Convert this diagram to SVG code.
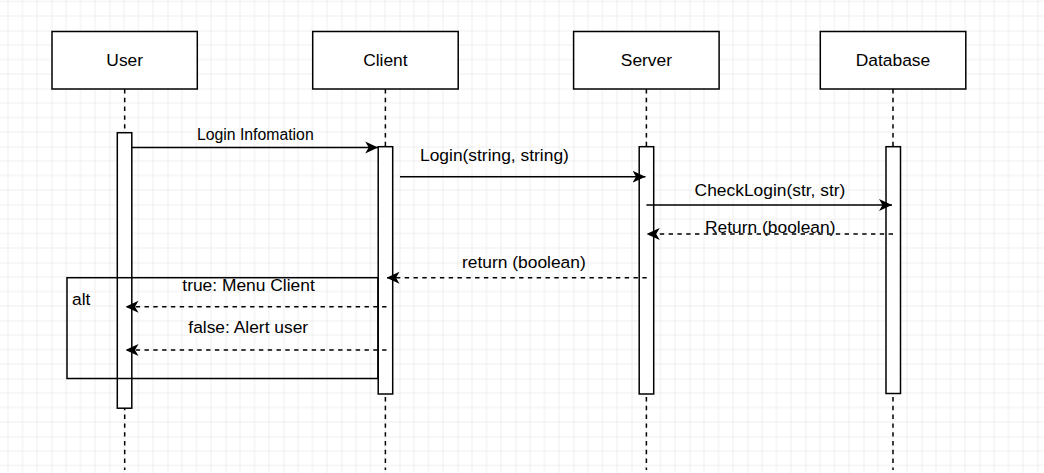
<svg xmlns="http://www.w3.org/2000/svg" width="1044" height="473" viewBox="0 0 1044 473">
<style>
.box{fill:#fff;stroke:#000;stroke-width:1.5}
.bar{fill:#fff;stroke:#000;stroke-width:1.5}
.life{stroke:#000;stroke-width:1.5;stroke-dasharray:4.4 4.4;fill:none}
.msg{stroke:#000;stroke-width:1.5;fill:none;marker-end:url(#ah)}
.ret{stroke:#000;stroke-width:1.5;fill:none;stroke-dasharray:4.4 4.4;marker-end:url(#ah)}
.frame{fill:none;stroke:#000;stroke-width:1.5}
text{font-family:"Liberation Sans",Arial,sans-serif;fill:#000;font-size:17.4px}
.c{text-anchor:middle}
</style>
<defs>
<pattern id="grid" x="51.5" y="30.5" width="58" height="58" patternUnits="userSpaceOnUse">
<path d="M14.5 0V58M29 0V58M43.5 0V58M0 14.5H58M0 29H58M0 43.5H58" stroke="#eeeeee" stroke-width="1" fill="none"/>
<path d="M0 0V58M0 0H58" stroke="#dedede" stroke-width="1" fill="none"/>
</pattern>
<marker id="ah" viewBox="0 0 13 13" refX="13" refY="6.5" markerWidth="13" markerHeight="13" markerUnits="userSpaceOnUse" orient="auto">
<path d="M0,0.5 L13,6.5 L0,12.5 L3.5,6.5 Z" fill="#000"/>
</marker>
</defs>
<rect width="1044" height="473" fill="#fff"/>
<rect width="1044" height="473" fill="url(#grid)"/>

<g id="lifelines">
<line class="life" x1="124.7" y1="89" x2="124.7" y2="470"/>
<line class="life" x1="385.4" y1="89" x2="385.4" y2="470"/>
<line class="life" x1="646.4" y1="89" x2="646.4" y2="470"/>
<line class="life" x1="893" y1="89" x2="893" y2="470"/>
</g>

<g id="user">
<rect class="box" x="52" y="31.5" width="145.3" height="57.5"/>
<text class="c" x="124.7" y="66">User</text>
<rect class="bar" x="117.3" y="132.7" width="14.5" height="275.5"/>
</g>
<g id="client">
<rect class="box" x="312.7" y="31.5" width="145.5" height="57.5"/>
<text class="c" x="385.4" y="66">Client</text>
<rect class="bar" x="378.2" y="146.7" width="14.5" height="247.3"/>
</g>
<g id="server">
<rect class="box" x="573.6" y="31.5" width="145.5" height="57.5"/>
<text class="c" x="646.4" y="66">Server</text>
<rect class="bar" x="639.2" y="146.7" width="14.5" height="247.3"/>
</g>
<g id="database">
<rect class="box" x="820.3" y="31.5" width="145.5" height="57.5"/>
<text class="c" x="893" y="66">Database</text>
<rect class="bar" x="886" y="146.7" width="14.5" height="246.8"/>
</g>

<g id="alt-frame">
<rect class="frame" x="67" y="277.7" width="311" height="100.8"/>
<text x="72" y="305">alt</text>
</g>

<g id="connectors">
<line class="msg" x1="131.8" y1="147.5" x2="378.2" y2="147.5"/>
<text class="c" x="255.3" y="140" style="font-size:15.8px">Login Infomation</text>
<line class="msg" x1="400" y1="176.7" x2="645.5" y2="176.7"/>
<text x="420" y="160.7">Login(string, string)</text>
<line class="msg" x1="646.4" y1="205" x2="892" y2="205"/>
<text class="c" x="770" y="196">CheckLogin(str, str)</text>
<line class="ret" x1="893" y1="234" x2="646.7" y2="234"/>
<text x="705" y="233.3">Return (boolean)</text>
<line class="ret" x1="646.7" y1="277.7" x2="386.5" y2="277.7"/>
<text x="462" y="268.3">return (boolean)</text>
<line class="ret" x1="386.5" y1="306.7" x2="125.5" y2="306.7"/>
<text x="182.3" y="290.7">true: Menu Client</text>
<line class="ret" x1="386.5" y1="350" x2="125.5" y2="350"/>
<text x="188.3" y="333.3">false: Alert user</text>
</g>
</svg>
